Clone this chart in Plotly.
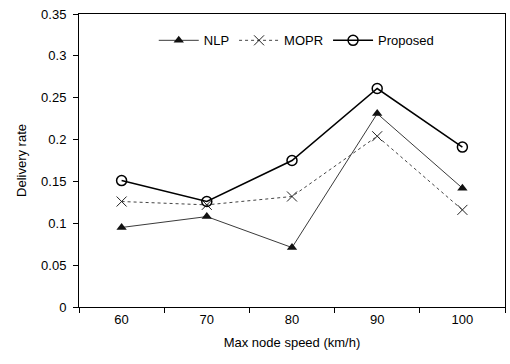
import plotly.graph_objects as go

speeds = ["60", "70", "80", "90", "100"]
nlp = [0.095, 0.108, 0.071, 0.231, 0.142]
mopr = [0.126, 0.122, 0.132, 0.204, 0.116]
proposed = [0.151, 0.126, 0.175, 0.261, 0.191]
y_ticks = [0, 0.05, 0.1, 0.15, 0.2, 0.25, 0.3, 0.35]
y_labels = ["0", "0.05", "0.1", "0.15", "0.2", "0.25", "0.3", "0.35"]

font = "Liberation Sans, Arial, sans-serif"

fig = go.Figure()
fig.add_trace(go.Scatter(x=speeds, y=nlp, name="NLP", mode="lines+markers",
                         line=dict(color="#3a3a3a", width=1),
                         marker=dict(symbol="triangle-up", size=9, color="#111111")))
fig.add_trace(go.Scatter(x=speeds, y=mopr, name="MOPR", mode="lines+markers",
                         line=dict(color="#444444", width=1, dash="dot"),
                         marker=dict(symbol="x-thin", size=10, line=dict(color="#222222", width=1))))
fig.add_trace(go.Scatter(x=speeds, y=proposed, name="Proposed", mode="lines+markers",
                         line=dict(color="#000000", width=1.5),
                         marker=dict(symbol="circle-open", size=10, line=dict(color="#000000", width=1.5))))

fig.update_layout(
    width=510, height=364,
    margin=dict(l=79, r=5, t=14, b=57),
    paper_bgcolor="white", plot_bgcolor="white",
    font=dict(family=font, size=13, color="#000000"),
    showlegend=True,
    legend=dict(orientation="h", x=0.51, xanchor="center", y=0.91, yanchor="middle",
                bgcolor="rgba(0,0,0,0)", font=dict(size=13), itemwidth=40),
    xaxis=dict(type="category", range=[-0.5, 4.5], tickson="boundaries",
               ticks="outside", ticklen=5, tickcolor="#000", automargin=False,
               showline=True, linecolor="#000", linewidth=1, mirror=True,
               showgrid=False, zeroline=False,
               title=dict(text="Max node speed (km/h)", font=dict(size=13), standoff=12),
               tickfont=dict(size=13)),
    yaxis=dict(range=[0, 0.35], tickvals=y_ticks, ticktext=y_labels,
               ticks="outside", ticklen=5, tickcolor="#000", automargin=False,
               showline=True, linecolor="#000", linewidth=1, mirror=True,
               showgrid=False, zeroline=False, ticklabelstandoff=4,
               title=dict(text="Delivery rate", font=dict(size=13), standoff=11),
               tickfont=dict(size=13)),
)

fig.write_html("out.html",
               config={"displayModeBar": False},
               post_script="document.body.style.margin='0';document.body.style.overflow='hidden';")
